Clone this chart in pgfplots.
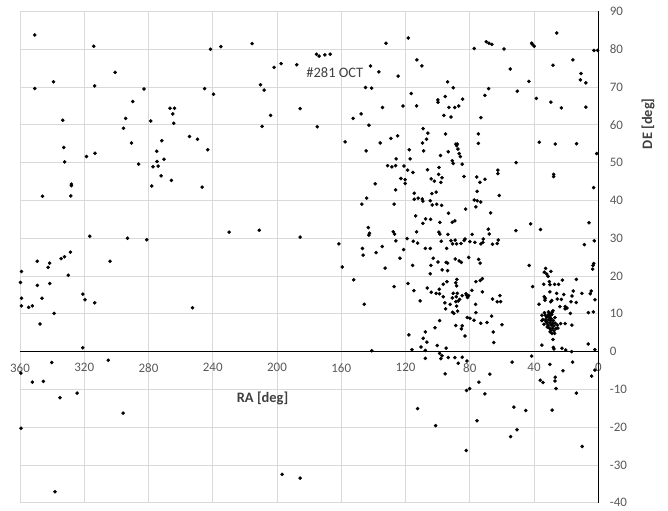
\documentclass[border=0pt]{standalone}
\usepackage{fontspec}
\setmainfont{Carlito}
\usepackage{pgfplots}
\pgfplotsset{compat=1.18}
\definecolor{gridc}{HTML}{D9D9D9}
\definecolor{tickc}{HTML}{595959}
\definecolor{titc}{HTML}{404040}
\pgfplotstableread{
ra de
350.8 83.8
314.1 80.8
241.4 80.0
235.0 80.7
300.8 73.9
339.2 71.4
350.8 69.6
313.5 70.3
282.8 69.5
245.1 69.6
239.5 68.1
289.8 66.2
266.6 64.4
263.8 64.4
264.9 62.9
264.3 60.4
294.2 61.7
333.4 61.2
278.6 61.0
295.6 59.1
254.5 56.9
249.5 56.2
243.1 53.4
271.7 55.8
290.6 55.2
274.9 53.0
332.8 54.0
318.6 51.6
313.3 52.5
332.2 50.2
274.7 50.3
270.3 50.9
286.1 49.6
277.2 48.9
274.0 49.1
272.2 46.5
265.7 45.3
278.0 43.8
246.6 43.5
328.0 44.3
328.0 43.9
328.4 41.2
346.0 41.1
229.8 31.6
316.6 30.5
293.1 30.0
281.1 29.6
328.6 26.3
332.3 25.1
334.4 24.6
349.2 23.9
341.5 23.4
342.5 22.3
303.9 23.9
359.1 21.2
329.9 20.2
359.7 18.3
349.2 17.5
341.5 18.0
320.9 15.2
319.5 13.7
313.5 12.9
359.1 14.1
346.3 14.1
359.1 12.1
354.6 11.7
352.3 12.1
338.8 10.1
252.6 11.6
347.5 7.3
320.9 1.0
305.0 -2.3
340.2 -2.9
359.4 -5.7
352.3 -8.1
345.4 -7.9
335.1 -12.2
324.5 -11.0
295.8 -16.3
359.4 -20.3
338.2 -37.1
215.5 81.5
132.2 81.6
118.3 83.0
175.4 78.7
173.8 78.2
170.2 78.5
166.9 78.7
201.8 75.2
197.4 76.2
187.7 75.9
141.8 75.6
136.6 74.0
124.6 72.9
112.9 77.2
109.8 75.6
93.8 71.4
210.3 70.6
208.0 69.2
144.9 69.9
141.1 69.7
116.4 68.3
99.9 66.6
99.8 66.0
95.3 67.5
93.0 64.6
185.6 64.3
134.3 64.6
121.6 65.0
113.1 65.0
204.0 62.5
209.3 59.6
175.0 59.5
152.6 61.7
147.6 62.9
142.8 59.9
96.1 62.5
109.0 59.0
106.1 57.8
109.4 55.2
106.9 56.2
108.7 53.1
95.1 57.6
98.2 51.9
93.4 52.9
157.6 55.5
144.5 53.1
135.8 55.2
129.1 56.4
124.9 57.1
117.7 53.4
117.1 51.0
125.8 51.0
131.2 49.2
128.5 48.9
126.2 49.2
121.0 49.1
118.7 48.0
115.4 47.4
122.9 45.8
120.2 45.5
120.2 44.5
106.3 48.1
99.2 48.7
99.4 46.9
97.3 46.0
104.0 45.7
102.1 45.1
98.0 44.8
138.9 44.4
126.2 42.8
114.6 41.9
103.6 41.8
100.9 42.2
114.6 40.3
112.1 40.6
109.6 40.4
109.2 39.8
104.6 39.9
103.4 38.8
100.6 39.0
97.5 38.7
93.2 36.6
147.2 39.0
144.2 40.6
127.1 39.0
113.7 35.9
109.2 33.9
107.5 35.1
104.4 35.0
98.6 34.2
113.1 31.7
99.2 31.6
98.6 31.1
93.6 31.0
143.2 32.8
142.4 31.3
142.8 30.8
127.7 31.7
126.8 31.1
211.1 32.1
185.6 30.3
161.5 28.5
146.8 27.3
146.4 25.5
138.3 26.2
134.5 27.8
126.0 29.3
121.2 27.0
119.0 29.9
115.2 29.2
112.5 28.7
107.7 27.3
104.6 27.3
97.8 29.2
94.4 27.3
123.5 24.7
102.8 24.7
90.3 69.8
77.2 80.2
89.4 64.6
86.9 65.0
91.7 62.1
73.1 61.9
74.7 57.6
84.5 66.8
70.6 67.8
68.3 69.6
69.7 82.0
68.1 81.6
66.2 81.3
58.7 80.1
41.5 81.6
41.1 81.3
39.9 80.8
25.9 84.3
2.7 79.7
0.4 79.7
54.8 74.8
28.2 75.8
15.8 77.2
10.8 73.6
11.2 71.9
7.7 71.1
43.2 71.5
50.4 68.9
38.6 67.0
29.5 66.0
23.0 64.5
7.7 64.7
88.6 54.9
87.8 54.9
88.2 54.5
74.7 55.1
87.4 53.6
86.6 52.4
85.9 51.6
90.9 50.5
90.3 49.8
84.7 49.6
83.6 46.3
75.7 46.2
73.7 44.8
70.6 45.6
75.4 42.4
77.2 40.1
75.4 39.9
73.2 39.6
76.2 38.3
82.6 37.7
89.3 34.6
90.9 34.2
78.5 31.0
68.5 32.4
71.6 29.8
89.1 29.5
83.0 29.8
83.5 29.4
91.7 29.3
90.7 28.5
88.2 28.5
79.9 29.1
76.8 28.9
85.5 28.6
73.1 28.5
36.7 55.4
26.8 54.9
13.5 55.0
1.0 52.4
51.1 50.0
62.5 48.0
62.5 47.1
27.8 46.9
27.8 46.3
61.7 41.3
2.9 43.4
67.0 36.7
42.1 33.8
67.9 31.1
51.3 32.0
36.0 32.3
5.8 34.1
71.8 28.9
65.8 28.4
62.9 28.6
62.3 29.5
8.7 28.3
2.5 29.3
132.7 22.1
115.6 22.8
99.8 23.7
104.2 22.8
104.6 20.6
97.2 21.6
93.8 21.4
94.7 23.6
93.8 23.4
89.1 24.5
86.6 24.0
85.3 23.6
80.7 24.9
74.5 24.4
73.5 23.4
127.1 17.2
118.5 18.0
114.8 16.1
110.9 13.4
106.5 16.8
104.0 15.7
100.9 15.4
99.0 16.5
98.8 15.3
96.5 17.8
94.2 18.5
96.5 14.5
95.5 12.9
95.1 11.3
92.2 12.5
90.3 15.4
88.4 14.5
90.9 14.2
87.8 15.4
88.7 13.2
87.2 13.4
86.3 13.8
88.2 12.0
88.7 18.2
88.2 17.4
88.0 19.1
87.6 10.7
90.7 10.4
89.9 10.1
84.7 14.8
82.4 15.3
82.0 14.9
81.4 14.3
80.7 14.8
78.7 16.2
76.2 18.5
73.5 18.8
72.2 19.3
76.4 12.5
76.2 10.3
81.6 9.0
79.9 8.8
77.4 8.3
73.2 7.5
69.3 7.7
88.7 6.9
84.7 6.8
85.3 6.0
83.0 4.1
98.8 8.2
101.7 6.3
107.7 5.2
117.9 4.4
109.0 3.5
106.7 2.5
110.4 1.2
116.0 0.5
107.7 0.3
100.3 1.6
94.7 0.9
141.0 0.2
98.8 -0.5
97.3 -1.1
107.7 -1.8
98.0 -1.9
93.4 -1.6
89.3 -1.6
84.7 -1.5
159.4 22.4
152.3 19.0
145.7 12.5
95.3 -5.9
112.5 -15.1
101.3 -19.6
196.8 -32.5
185.6 -33.5
87.2 -3.1
81.8 -2.5
74.3 -8.1
67.5 -6.0
70.6 -11.2
82.0 -10.3
80.1 -9.8
75.5 -18.3
82.2 -26.2
53.7 -2.8
41.5 -1.2
30.1 -3.4
22.0 -5.1
26.8 -6.8
27.0 -7.8
36.1 -7.6
34.4 -8.2
16.0 -2.8
26.3 -9.8
13.7 -11.0
4.1 -6.5
2.1 -4.9
52.5 -14.7
45.2 -15.6
28.8 -15.5
50.6 -20.7
54.6 -22.5
10.0 -25.1
72.2 15.8
65.8 13.9
62.9 13.2
60.8 13.2
61.2 14.8
66.4 9.4
60.0 7.1
65.4 5.2
65.1 2.4
43.0 22.8
40.9 17.2
32.8 22.0
33.6 21.0
32.1 20.5
31.3 19.9
29.5 21.2
30.5 18.5
30.1 17.7
34.0 17.8
27.2 17.8
24.7 17.8
22.4 18.9
13.7 19.1
36.9 12.5
33.6 14.5
33.0 14.1
33.2 13.6
30.1 15.8
29.0 13.5
29.6 13.2
25.9 15.4
25.5 13.9
23.0 13.8
21.5 15.1
20.6 11.9
19.5 11.5
20.7 11.3
23.9 11.9
15.6 16.0
16.4 14.7
17.0 13.2
13.7 13.0
10.2 15.4
4.4 16.0
5.0 15.3
2.1 13.7
6.2 10.3
3.1 10.5
17.4 10.1
20.6 7.4
16.4 7.0
23.4 7.4
3.3 22.8
2.9 23.3
3.5 21.8
6.2 2.0
2.1 0.5
35.1 1.7
28.0 1.1
27.6 0.7
22.6 0.9
20.3 0.4
16.6 0.0
28.2 3.2
35.1 9.6
33.0 9.6
31.3 9.6
29.6 9.6
32.1 9.1
30.5 9.1
29.3 8.7
35.1 8.2
33.0 8.4
30.9 8.4
29.5 8.2
28.0 8.2
32.1 7.6
30.1 7.6
28.4 7.5
26.8 7.5
31.3 7.0
29.3 7.0
27.6 6.8
25.5 7.0
30.5 6.2
28.4 6.2
26.3 6.1
29.5 5.7
27.6 5.5
28.8 4.8
27.2 4.8
25.1 6.2
34.6 8.5
28.8 10.4
28.2 10.8
30.5 10.1
31.0 10.5
33.5 10.3
32.5 8.0
31.8 6.5
30.0 5.2
27.0 9.0
29.0 9.8
33.8 7.2
}\radec
\begin{document}
\begin{tikzpicture}
\begin{axis}[
  scale only axis,
  width=578.3bp, height=491.2bp,
  xmin=0, xmax=360, ymin=-40, ymax=90,
  x dir=reverse,
  xtick={0,40,...,360}, ytick={-40,-30,...,90},
  grid=major, grid style={gridc, line width=0.75bp},
  axis line style={draw=none},
  major tick length=0pt,
  tick label style={font=\fontsize{13}{15}\selectfont, text=tickc},
  /pgf/number format/assume math mode=true,
  yticklabel pos=right,
  yticklabel style={anchor=west, xshift=8bp},
  xticklabel style={yshift=142.9bp},
  clip=false,
]
\addplot[only marks, mark=*, mark size=1.6bp, black] table[x=ra, y=de] {\radec};
\draw[black, line width=1bp] (axis cs:360,0) -- (axis cs:0,0);
\draw[black, line width=1bp] (axis cs:0,-40) -- (axis cs:0,90);
\node[font=\fontsize{14.5}{16}\selectfont, text=titc] at (axis cs:164,73.7) {\#281 OCT};
\node[font=\bfseries\fontsize{14.5}{16}\selectfont, text=titc] at (axis cs:209,-12.3) {RA [deg]};
\node[rotate=90, font=\bfseries\fontsize{14.5}{16}\selectfont, text=titc] at ([xshift=49.7bp]axis cs:0,60.3) {DE [deg]};
\coordinate (bl) at (axis cs:360,-40);
\coordinate (tr) at (axis cs:0,90);
\end{axis}
\path ([xshift=-20bp,yshift=-8.3bp]bl) rectangle ([xshift=69.7bp,yshift=11.5bp]tr);
\end{tikzpicture}
\end{document}
